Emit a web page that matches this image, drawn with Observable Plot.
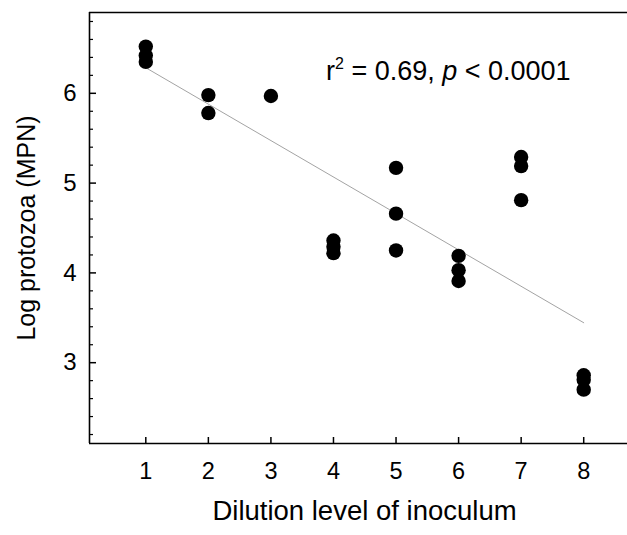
<!DOCTYPE html>
<html><head><meta charset="utf-8">
<script src="https://cdn.jsdelivr.net/npm/d3@7"></script>
<script src="https://cdn.jsdelivr.net/npm/@observablehq/plot@0.6"></script>
<style>body{margin:0;background:#fff} svg{display:block}</style>
</head><body><div id="chart"></div>
<script>
const dilution =    [1, 1, 1, 2, 2, 3, 4, 4, 4, 5, 5, 5, 6, 6, 6, 7, 7, 7, 8, 8, 8];
const logProtozoa = [6.52, 6.42, 6.35, 5.98, 5.78, 5.97, 4.36, 4.29, 4.22, 5.17, 4.66, 4.25, 4.19, 4.03, 3.91, 5.29, 5.19, 4.81, 2.86, 2.81, 2.70];
const fitX = [1, 8];
const fitY = [6.285, 3.445];
const xTicks = [1, 2, 3, 4, 5, 6, 7, 8];
const yTicks = [3, 4, 5, 6];
const yMinorTicks = [2.2, 2.4, 2.6, 2.8, 3.2, 3.4, 3.6, 3.8, 4.2, 4.4, 4.6, 4.8, 5.2, 5.4, 5.6, 5.8, 6.2, 6.4, 6.6, 6.8];
const xLabel = "Dilution level of inoculum";
const yLabel = "Log protozoa (MPN)";
const annotation = "r2 = 0.69, p < 0.0001";
const annX = 3.88, annY = 6.145;

const points = dilution.map((d, i) => ({x: d, y: logProtozoa[i]}));
const fit = fitX.map((d, i) => ({x: d, y: fitY[i]}));

const chart = Plot.plot({
  width: 627, height: 535,
  marginLeft: 89, marginRight: 0, marginTop: 12, marginBottom: 92,
  style: {fontFamily: "'Liberation Sans', Arial, sans-serif", background: "white", color: "black"},
  x: {domain: [0.1, 8.7], axis: null},
  y: {domain: [2.1, 6.9], axis: null},
  marks: [
    Plot.axisY({ticks: yMinorTicks, tickSize: 4, dx: 4, text: null, label: null, strokeWidth: 1.2}),
    Plot.axisY({ticks: yTicks, tickSize: 7, dx: 7, text: null, label: null, strokeWidth: 1.5}),
    Plot.axisY({ticks: yTicks, tickSize: 0, tickPadding: 13, fontSize: 24, label: null, tickFormat: d3.format("d")}),
    Plot.axisX({ticks: xTicks, tickSize: 6, dy: -6, text: null, label: null, strokeWidth: 1.5}),
    Plot.axisX({ticks: xTicks, tickSize: 0, tickPadding: 19, fontSize: 23.5, label: null, tickFormat: d3.format("d")}),
    Plot.ruleX([0.1], {strokeWidth: 1.6}),
    Plot.ruleY([2.1], {strokeWidth: 1.6}),
    Plot.ruleY([6.9], {strokeWidth: 1.6}),
    Plot.line(fit, {x: "x", y: "y", stroke: "#999", strokeWidth: 0.9}),
    Plot.dot(points, {x: "x", y: "y", r: 7.2, fill: "black"}),
    Plot.text([annotation], {x: () => annX, y: () => annY, text: d => d, textAnchor: "start", lineAnchor: "bottom", fontSize: 27}),
    Plot.text([yLabel], {frameAnchor: "left", text: d => d, rotate: -90, textAnchor: "middle", lineAnchor: "middle", dx: -63, fontSize: 25}),
    Plot.text([xLabel], {frameAnchor: "bottom", text: d => d, textAnchor: "middle", lineAnchor: "middle", dx: 6, dy: 68, fontSize: 27.5})
  ]
});
document.getElementById("chart").append(chart);

d3.select(chart).selectAll("text").filter(function() { return this.textContent === annotation; })
  .html('r<tspan dy="-11" font-size="16">2</tspan><tspan dy="11"> = 0.69, </tspan><tspan font-style="italic">p</tspan> &lt; 0.0001');
</script>
</body></html>
